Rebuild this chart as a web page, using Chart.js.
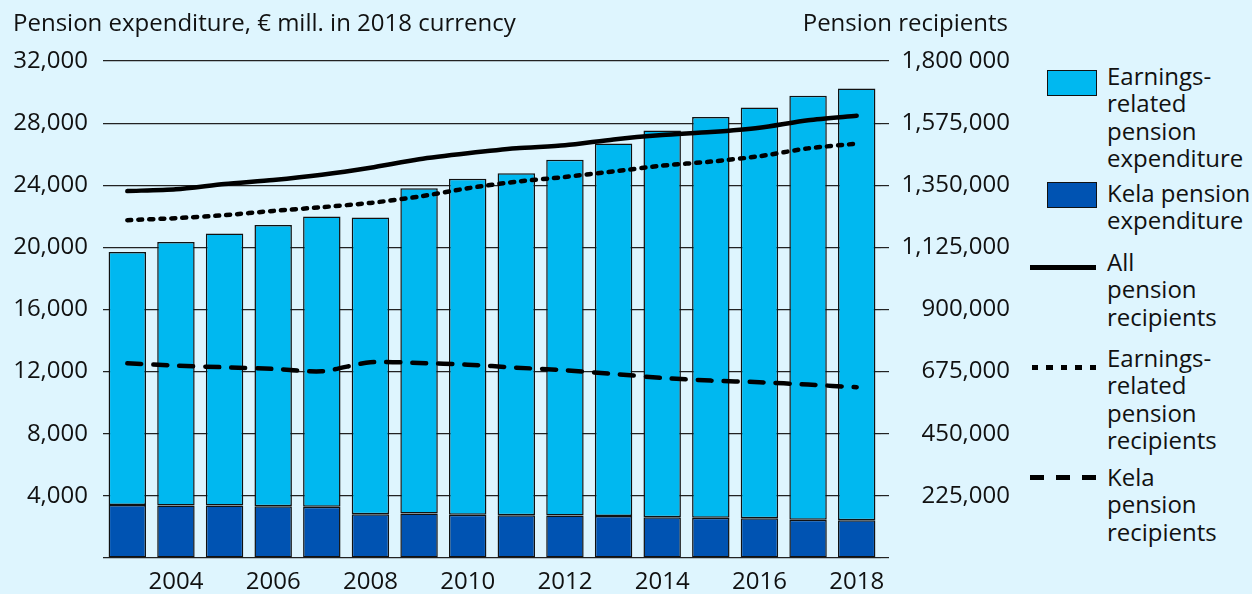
<!DOCTYPE html>
<html>
<head>
<meta charset="utf-8">
<script src="https://cdn.jsdelivr.net/npm/chart.js@4/dist/chart.umd.min.js"></script>
<style>
  html, body { margin: 0; padding: 0; background: #def5fe; }
  #wrap { position: relative; width: 1252px; height: 594px; overflow: hidden; background: #def5fe;
          font-family: 'Open Sans', sans-serif; color: #111; }
  #chart { position: absolute; left: 0; top: 0; }
  .txt { position: absolute; font-size: 24px; line-height: 28px; white-space: nowrap; }
  .leg { position: absolute; left: 1107px; font-size: 24px; line-height: 27.3px; white-space: nowrap; }
  .box { position: absolute; left: 1047px; width: 48px; height: 24px; border: 1.5px solid #111; }
  .ln { position: absolute; left: 1030px; width: 66px; height: 5px; }
</style>
</head>
<body>
<div id="wrap">
  <canvas id="chart" width="1010" height="594"></canvas>
  <div class="txt" style="left:13px; top:8px;">Pension expenditure, € mill. in 2018 currency</div>
  <div class="txt" style="right:244px; top:8px;">Pension recipients</div>

  <div class="box" style="top:70px; background:#00b8f0;"></div>
  <div class="leg" style="top:62px;">Earnings-<br>related<br>pension<br>expenditure</div>
  <div class="box" style="top:182px; background:#0053b2;"></div>
  <div class="leg" style="top:179px;">Kela pension<br>expenditure</div>
  <div class="ln" style="top:265px; background:#000;"></div>
  <div class="leg" style="top:248px;">All<br>pension<br>recipients</div>
  <div class="ln" style="top:365px; left:1032px; width:64px; background:repeating-linear-gradient(90deg,#000 0 6px,transparent 6px 14.5px);"></div>
  <div class="leg" style="top:344px;">Earnings-<br>related<br>pension<br>recipients</div>
  <div class="ln" style="top:475px; background:repeating-linear-gradient(90deg,#000 0 14px,transparent 14px 26px);"></div>
  <div class="leg" style="top:463px;">Kela<br>pension<br>recipients</div>
</div>
<script>
const years = ['2003', '2004', '2005', '2006', '2007', '2008', '2009', '2010',
               '2011', '2012', '2013', '2014', '2015', '2016', '2017', '2018'];
const xTickLabels = ['', '2004', '', '2006', '', '2008', '', '2010',
                     '', '2012', '', '2014', '', '2016', '', '2018'];

// € mill., stacked: Kela at bottom, earnings-related on top
const kelaExpenditure = [3420, 3380, 3380, 3340, 3300, 2820, 2860, 2780,
                         2760, 2740, 2710, 2630, 2590, 2560, 2470, 2430];
const earningsExpenditure = [16280, 16970, 17520, 18100, 18690, 19110, 20950, 21640,
                             22010, 22900, 23980, 24900, 25800, 26440, 27290, 27800];

// recipients, right axis
const allRecipients = [1329000, 1335500, 1354700, 1369000, 1388000, 1413500, 1444000, 1465500,
                       1483600, 1494500, 1516000, 1531700, 1542500, 1558400, 1585800, 1601700];
const earningsRecipients = [1223600, 1230800, 1241600, 1257000, 1270500, 1286000, 1308800, 1339000,
                            1363000, 1380000, 1400000, 1421000, 1435600, 1455000, 1483600, 1500600];
const kelaRecipients = [705300, 696700, 690900, 684800, 676400, 709000, 706400, 700300,
                        689400, 680000, 666700, 652200, 642500, 636700, 628000, 618600];

const leftTickLabels = ['', '4,000', '8,000', '12,000', '16,000', '20,000', '24,000', '28,000', '32,000'];
const rightTickLabels = ['', '225,000', '450,000', '675,000', '900,000', '1,125,000', '1,350,000', '1,575,000', '1,800 000'];

const font = { family: "'Open Sans', sans-serif", size: 24 };

function lineSet(label, data, dash) {
  return {
    type: 'line', label, data, yAxisID: 'y1', order: 0,
    borderColor: '#000', borderWidth: 4.5, borderDash: dash,
    borderCapStyle: 'round', pointRadius: 0, tension: 0.25, fill: false
  };
}

new Chart(document.getElementById('chart'), {
  data: {
    labels: years,
    datasets: [
      { type: 'bar', label: 'Kela pension expenditure', data: kelaExpenditure, yAxisID: 'y', order: 1,
        backgroundColor: '#0053b2', borderColor: '#111', borderWidth: 1.5, borderSkipped: false,
        barPercentage: 0.77, categoryPercentage: 1 },
      { type: 'bar', label: 'Earnings-related pension expenditure', data: earningsExpenditure, yAxisID: 'y', order: 1,
        backgroundColor: '#00b8f0', borderColor: '#111', borderWidth: 1.5, borderSkipped: false,
        barPercentage: 0.77, categoryPercentage: 1 },
      lineSet('All pension recipients', allRecipients, []),
      lineSet('Earnings-related pension recipients', earningsRecipients, [4, 7]),
      lineSet('Kela pension recipients', kelaRecipients, [14, 12])
    ]
  },
  options: {
    responsive: false,
    animation: false,
    layout: { padding: { top: 61, left: 0, right: 0, bottom: 0 } },
    plugins: { legend: { display: false }, tooltip: { enabled: false } },
    scales: {
      x: {
        stacked: true,
        grid: { display: false },
        border: { display: false },
        afterFit: s => { s.height = 36; },
        ticks: {
          autoSkip: false, maxRotation: 0, padding: 2, color: '#111', font,
          callback: (v, i) => xTickLabels[i]
        }
      },
      y: {
        position: 'left', stacked: true, min: 0, max: 32000,
        afterFit: s => { s.width = 103; },
        border: { display: false },
        grid: { color: '#222', lineWidth: 1.2, drawTicks: false },
        ticks: {
          stepSize: 4000, padding: 15, color: '#111', font,
          callback: v => leftTickLabels[Math.round(v / 4000)]
        }
      },
      y1: {
        position: 'right', stacked: false, min: 0, max: 1800000,
        afterFit: s => { s.width = 129; },
        border: { display: false },
        grid: { drawOnChartArea: false, drawTicks: true, tickLength: 8, color: '#222', lineWidth: 1.2 },
        ticks: {
          stepSize: 225000, padding: 6, crossAlign: 'far', color: '#111', font,
          callback: v => rightTickLabels[Math.round(v / 225000)]
        }
      }
    }
  }
});
</script>
</body>
</html>
